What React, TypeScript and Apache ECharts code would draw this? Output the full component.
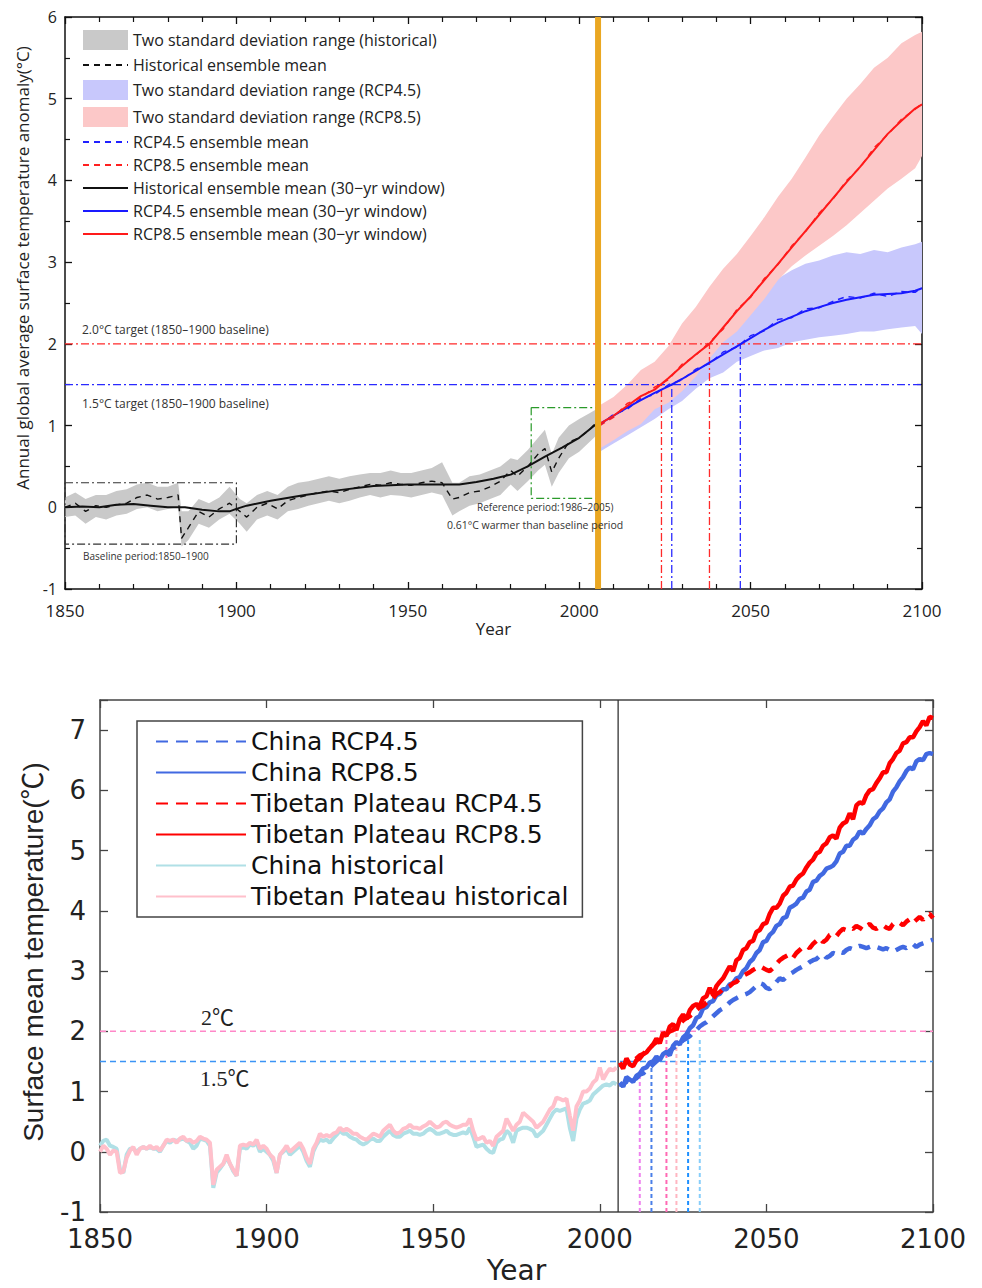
import React, { useEffect, useRef } from 'react';
import * as echarts from 'echarts';

// ---------------- TOP PANEL DATA ----------------
const topHistYears = [1850,1853,1856,1859,1862,1865,1868,1871,1874,1877,1880,1883,1884,1886,1889,1892,1895,1898,1901,1903,1906,1909,1912,1915,1918,1921,1924,1927,1930,1933,1936,1939,1942,1945,1948,1951,1954,1957,1960,1963,1965,1968,1971,1974,1977,1980,1982,1985,1988,1990,1992,1994,1997,2000,2003,2005];
const topHistMean = [0.0,0.05,-0.05,0.02,0.0,0.03,0.05,0.12,0.15,0.1,0.12,0.15,-0.38,-0.25,-0.05,-0.12,-0.02,0.05,-0.05,-0.12,0.0,0.05,-0.02,0.08,0.12,0.15,0.18,0.2,0.18,0.22,0.25,0.28,0.27,0.3,0.28,0.27,0.3,0.32,0.3,0.1,0.12,0.18,0.2,0.25,0.32,0.45,0.38,0.5,0.65,0.72,0.43,0.6,0.8,0.85,0.95,1.04];
const topHistLow = [-0.12,-0.1,-0.2,-0.12,-0.15,-0.1,-0.08,-0.02,0.0,-0.05,-0.02,0.0,-0.48,-0.4,-0.2,-0.25,-0.15,-0.08,-0.2,-0.3,-0.15,-0.1,-0.15,-0.05,-0.02,0.02,0.05,0.08,0.05,0.08,0.12,0.15,0.12,0.15,0.14,0.12,0.15,0.18,0.15,-0.1,-0.05,0.02,0.05,0.1,0.15,0.28,0.2,0.32,0.45,0.52,0.25,0.42,0.6,0.68,0.8,0.88];
const topHistHigh = [0.12,0.18,0.1,0.15,0.15,0.2,0.22,0.28,0.3,0.25,0.25,0.3,-0.05,-0.05,0.1,0.05,0.12,0.25,0.1,0.05,0.15,0.2,0.15,0.25,0.3,0.32,0.35,0.38,0.35,0.38,0.4,0.42,0.42,0.45,0.42,0.42,0.45,0.48,0.55,0.3,0.3,0.38,0.4,0.45,0.5,0.6,0.58,0.7,0.85,0.95,0.65,0.85,1.0,1.08,1.15,1.2];
const topHist30Years = [1850,1855,1860,1865,1870,1875,1880,1885,1890,1895,1898,1900,1903,1910,1920,1930,1940,1950,1960,1965,1970,1975,1980,1985,1990,1995,2000,2005];
const topHist30 = [0.0,0.01,0.0,0.03,0.04,0.02,0.0,0.0,-0.03,-0.05,-0.05,-0.02,0.02,0.08,0.15,0.21,0.26,0.28,0.28,0.28,0.31,0.35,0.4,0.5,0.62,0.73,0.85,1.02];

const topFutYears = [2006,2010,2014,2018,2022,2026,2030,2034,2038,2042,2046,2050,2054,2058,2062,2066,2070,2074,2078,2082,2086,2090,2094,2098,2100];
const rcp85High = [1.25,1.35,1.5,1.68,1.78,1.97,2.25,2.45,2.7,2.92,3.1,3.32,3.55,3.8,4.02,4.28,4.55,4.78,5.0,5.18,5.38,5.5,5.68,5.78,5.82];
const rcp85Low = [0.72,0.82,0.93,1.02,1.2,1.28,1.42,1.6,1.82,2.02,2.15,2.35,2.55,2.78,2.95,3.08,3.2,3.32,3.45,3.6,3.75,3.9,4.02,4.15,4.3];
const rcp45High = [1.2,1.3,1.42,1.55,1.68,1.82,1.95,2.1,2.25,2.38,2.5,2.62,2.72,2.8,2.9,2.98,3.02,3.08,3.12,3.1,3.15,3.12,3.18,3.22,3.25];
const rcp45Low = [0.68,0.78,0.88,0.98,1.08,1.2,1.3,1.45,1.58,1.65,1.78,1.85,1.92,1.95,2.02,2.05,2.08,2.1,2.12,2.15,2.15,2.18,2.2,2.22,2.12];
const rcp85Mean30 = [1.02,1.12,1.24,1.36,1.44,1.58,1.73,1.87,2.0,2.2,2.4,2.58,2.78,2.98,3.18,3.38,3.58,3.78,3.98,4.17,4.37,4.57,4.73,4.88,4.93];
const rcp45Mean30 = [1.02,1.12,1.22,1.31,1.4,1.48,1.57,1.67,1.77,1.87,1.97,2.07,2.17,2.26,2.33,2.4,2.45,2.5,2.54,2.57,2.6,2.61,2.62,2.65,2.68];
const rcp85Mean = [1.0,1.1,1.27,1.34,1.47,1.56,1.75,1.86,2.02,2.18,2.42,2.57,2.8,2.97,3.2,3.37,3.6,3.77,4.0,4.16,4.4,4.56,4.75,4.87,4.94];
const rcp45Mean = [1.0,1.14,1.2,1.33,1.38,1.5,1.56,1.69,1.76,1.9,1.96,2.1,2.16,2.3,2.32,2.43,2.44,2.52,2.58,2.56,2.62,2.58,2.64,2.63,2.69];

const topTargets = [2.0, 1.5];
const topCrossYears = [2024, 2027, 2038, 2047];
const topCrossTops = [1.5, 1.5, 2.0, 2.0];
const baselineBox = { x0: 1850, x1: 1900, y0: -0.45, y1: 0.3 };
const referenceBox = { x0: 1986, x1: 2005, y0: 0.11, y1: 1.22 };
const splitYear = 2005.5;

// ---------------- BOTTOM PANEL DATA ----------------
const histYears = Array.from({ length: 156 }, (_, i) => 1850 + i);
const futYears = Array.from({ length: 95 }, (_, i) => 2006 + i);

const tpHist = [
  0.00,0.10,0.05,-0.05,0.02,0.00,-0.35,-0.33,-0.10,0.02,
  0.08,-0.05,0.05,0.08,0.05,0.10,0.05,0.08,0.02,0.10,
  0.20,0.18,0.20,0.15,0.22,0.25,0.18,0.20,0.15,0.18,
  0.25,0.22,0.20,0.15,-0.55,-0.30,-0.25,-0.20,-0.05,-0.20,
  -0.30,-0.40,0.10,0.12,0.10,0.15,0.12,0.20,0.05,0.10,
  0.05,-0.05,-0.10,-0.35,-0.05,0.02,0.10,0.00,0.05,0.10,
  0.15,0.05,-0.10,-0.20,0.05,0.15,0.30,0.25,0.28,0.25,
  0.30,0.32,0.40,0.35,0.38,0.35,0.30,0.30,0.25,0.22,
  0.20,0.25,0.30,0.28,0.25,0.35,0.40,0.45,0.35,0.30,
  0.32,0.38,0.40,0.45,0.40,0.40,0.38,0.42,0.45,0.50,
  0.45,0.40,0.42,0.48,0.50,0.45,0.42,0.40,0.42,0.45,
  0.45,0.55,0.35,0.20,0.22,0.25,0.15,0.18,0.10,0.25,
  0.30,0.35,0.55,0.45,0.35,0.45,0.50,0.65,0.60,0.55,
  0.50,0.40,0.45,0.50,0.60,0.70,0.75,0.90,0.88,0.85,
  0.88,0.60,0.35,0.75,0.85,1.00,1.00,1.05,1.15,1.20,
  1.40,1.20,1.30,1.38,1.35,1.40,
];
const chinaHist = [
  0.10,0.18,0.20,0.10,0.08,0.05,-0.30,-0.35,-0.05,0.05,
  0.05,0.00,0.05,0.08,0.05,0.08,0.05,0.05,0.00,0.10,
  0.18,0.15,0.20,0.18,0.20,0.22,0.18,0.15,0.05,0.10,
  0.22,0.20,0.18,0.10,-0.60,-0.35,-0.28,-0.20,-0.10,-0.20,
  -0.32,-0.40,0.05,0.08,0.05,0.12,0.10,0.15,0.00,0.05,
  0.00,-0.05,-0.15,-0.35,-0.05,0.00,0.05,-0.05,0.00,0.05,
  0.10,0.00,-0.15,-0.25,0.00,0.12,0.20,0.18,0.20,0.15,
  0.22,0.28,0.35,0.30,0.30,0.25,0.22,0.20,0.15,0.12,
  0.15,0.20,0.22,0.18,0.18,0.25,0.30,0.35,0.28,0.25,
  0.25,0.30,0.32,0.35,0.30,0.30,0.28,0.30,0.35,0.38,
  0.35,0.30,0.30,0.32,0.35,0.30,0.28,0.28,0.30,0.32,
  0.30,0.40,0.25,0.08,0.10,0.12,0.05,0.00,-0.02,0.15,
  0.20,0.22,0.35,0.30,0.15,0.35,0.38,0.40,0.40,0.38,
  0.35,0.25,0.30,0.35,0.45,0.55,0.65,0.70,0.68,0.70,
  0.72,0.40,0.18,0.55,0.70,0.80,0.82,0.85,0.95,1.00,
  1.05,1.10,1.12,1.10,1.15,1.12,
];
const tpRcp85 = [
  1.48,1.38,1.55,1.45,
  1.42,1.52,1.55,1.62,1.65,1.72,1.78,1.88,1.80,1.98,
  1.92,2.08,2.12,2.02,2.20,2.28,2.20,2.35,2.42,2.45,
  2.42,2.55,2.58,2.72,2.60,2.75,2.82,2.88,2.98,3.08,
  3.00,3.18,3.22,3.35,3.38,3.48,3.50,3.65,3.68,3.78,
  3.80,3.95,4.05,4.05,4.12,4.25,4.30,4.40,4.42,4.52,
  4.58,4.62,4.72,4.80,4.85,4.95,4.98,5.08,5.12,5.22,
  5.25,5.20,5.38,5.45,5.48,5.62,5.52,5.75,5.80,5.78,
  5.92,6.00,6.02,6.12,6.20,6.30,6.30,6.45,6.52,6.62,
  6.66,6.78,6.80,6.88,6.88,6.98,7.05,7.15,7.08,7.22,
  7.20,
];
const chinaRcp85 = [
  1.15,1.08,1.24,1.20,
  1.16,1.26,1.30,1.38,1.40,1.48,1.50,1.58,1.52,1.62,
  1.66,1.60,1.76,1.82,1.78,1.90,1.95,2.05,2.10,2.22,
  2.25,2.38,2.40,2.48,2.50,2.60,2.62,2.70,2.70,2.78,
  2.80,2.88,2.90,3.00,3.05,3.15,3.20,3.30,3.35,3.48,
  3.50,3.60,3.65,3.75,3.78,3.88,3.90,4.05,4.08,4.12,
  4.20,4.22,4.32,4.35,4.48,4.50,4.58,4.62,4.70,4.72,
  4.75,4.82,4.95,4.98,5.08,5.08,5.18,5.22,5.32,5.28,
  5.36,5.42,5.52,5.56,5.65,5.70,5.80,5.85,5.98,6.05,
  6.15,6.22,6.32,6.38,6.35,6.48,6.52,6.50,6.60,6.62,
  6.60,
];
const tpRcp45 = [
  1.45,1.42,1.50,1.48,
  1.52,1.55,1.60,1.62,1.68,1.72,1.78,1.82,1.85,1.88,
  1.95,2.00,2.02,2.08,2.12,2.18,2.22,2.25,2.30,2.35,
  2.40,2.42,2.48,2.52,2.55,2.62,2.65,2.70,2.72,2.75,
  2.80,2.82,2.88,2.92,2.95,2.98,3.02,3.05,3.08,3.05,
  3.02,3.00,3.05,3.12,3.18,3.22,3.25,3.28,3.22,3.30,
  3.35,3.40,3.42,3.38,3.45,3.50,3.55,3.48,3.52,3.60,
  3.62,3.58,3.65,3.70,3.68,3.72,3.70,3.75,3.72,3.68,
  3.75,3.78,3.72,3.70,3.74,3.76,3.72,3.70,3.78,3.82,
  3.80,3.76,3.82,3.86,3.80,3.85,3.90,3.85,3.92,3.95,
  3.88,
];
const chinaRcp45 = [
  1.12,1.10,1.18,1.15,
  1.20,1.22,1.28,1.30,1.35,1.40,1.45,1.50,1.55,1.58,
  1.62,1.68,1.72,1.75,1.80,1.85,1.88,1.92,1.98,2.02,
  2.08,2.12,2.15,2.20,2.25,2.30,2.35,2.38,2.42,2.48,
  2.52,2.55,2.58,2.60,2.62,2.65,2.70,2.75,2.80,2.78,
  2.72,2.70,2.75,2.82,2.88,2.85,2.90,2.95,2.98,3.02,
  3.05,3.08,3.10,3.15,3.18,3.20,3.25,3.28,3.22,3.25,
  3.30,3.28,3.32,3.30,3.35,3.38,3.36,3.40,3.42,3.40,
  3.38,3.40,3.42,3.40,3.38,3.36,3.38,3.35,3.32,3.35,
  3.38,3.40,3.38,3.42,3.45,3.40,3.44,3.46,3.48,3.50,
  3.52,
];
const bottomTargets = [2.0, 1.5];
const markYears = [2012, 2015.5, 2020, 2023, 2026.5, 2030];
const markTops = [1.3, 1.5, 2.0, 2.0, 1.85, 1.9];
const markColors = ['#ee82ee', '#4a7fe8', '#ff69b4', '#ffb6c1', '#1e90ff', '#87cefa'];

// ---------------- helpers ----------------
const TOP_FONT = "'Open Sans', 'Noto Sans', sans-serif";
const BOT_FONT = "'DejaVu Sans', sans-serif";
const DASHDOT = [8, 3, 2, 3];

function pairs(xs: number[], ys: number[]) {
  return xs.map((x, i) => [x, ys[i]]);
}

function line(name: string, data: number[][], color: string, width: number, type: any, axis: number, z = 3) {
  return {
    type: 'line', name, xAxisIndex: axis, yAxisIndex: axis, data,
    symbol: 'none', showSymbol: false, silent: true, z,
    lineStyle: { color, width, type }, itemStyle: { color },
  };
}

function band(name: string, xs: number[], lo: number[], hi: number[], color: string) {
  return {
    type: 'custom', name, xAxisIndex: 0, yAxisIndex: 0, z: 1, silent: true,
    itemStyle: { color },
    encode: { x: 0, y: 1 },
    data: [[xs[0], lo[0]]],
    renderItem: (_params: any, api: any) => {
      const pts: number[][] = [];
      for (let i = 0; i < xs.length; i++) pts.push(api.coord([xs[i], hi[i]]));
      for (let i = xs.length - 1; i >= 0; i--) pts.push(api.coord([xs[i], lo[i]]));
      return { type: 'polygon', shape: { points: pts }, style: { fill: color } };
    },
  };
}

function boxPath(b: { x0: number; x1: number; y0: number; y1: number }) {
  return [[b.x0, b.y1], [b.x1, b.y1], [b.x1, b.y0], [b.x0, b.y0], [b.x0, b.y1]];
}

function xAx(grid: number, pos: string, labels: boolean) {
  const isTop = grid === 0;
  return {
    type: 'value', gridIndex: grid, position: pos, min: 1850, max: 2100, interval: 50,
    splitLine: { show: false },
    axisLine: { onZero: false, lineStyle: { color: isTop ? '#111' : '#444', width: 1.5 } },
    axisTick: { inside: true, length: isTop ? 7 : 8, lineStyle: { color: isTop ? '#111' : '#444', width: 1.3 } },
    minorTick: { show: isTop, splitNumber: 5, length: 5, lineStyle: { color: '#111', width: 1.2 } },
    axisLabel: {
      show: labels, margin: isTop ? 13 : 14, fontSize: isTop ? 17 : 26,
      fontFamily: isTop ? TOP_FONT : BOT_FONT, color: '#222',
      formatter: (v: number) => String(v),
    },
    name: labels ? 'Year' : '',
    nameLocation: 'middle', nameGap: isTop ? 28 : 44,
    nameTextStyle: { fontSize: isTop ? 17 : 28, fontFamily: isTop ? TOP_FONT : BOT_FONT, color: '#222' },
  };
}

function yAx(grid: number, pos: string, labels: boolean) {
  const isTop = grid === 0;
  return {
    type: 'value', gridIndex: grid, position: pos, min: -1, max: isTop ? 6 : 7.5, interval: 1,
    splitLine: { show: false },
    axisLine: { onZero: false, lineStyle: { color: isTop ? '#111' : '#444', width: 1.5 } },
    axisTick: { inside: true, length: isTop ? 7 : 8, lineStyle: { color: isTop ? '#111' : '#444', width: 1.3 } },
    minorTick: { show: isTop, splitNumber: 2, length: 5, lineStyle: { color: '#111', width: 1.2 } },
    axisLabel: {
      show: labels, margin: isTop ? 8 : 14, fontSize: isTop ? 16 : 26,
      fontFamily: isTop ? TOP_FONT : BOT_FONT, color: '#222',
      formatter: (v: number) => (Number.isInteger(v) ? String(v) : ''),
    },
  };
}

const lineItem = (name: string) => ({ name, itemStyle: { opacity: 0, borderWidth: 0 } });

function buildOption() {
  const series: any[] = [];
  // --- top panel ---
  series.push(band('Two standard deviation range (historical)', topHistYears, topHistLow, topHistHigh, '#c9c9c9'));
  series.push(band('Two standard deviation range (RCP4.5)', topFutYears, rcp45Low, rcp45High, '#c8c8fc'));
  series.push(band('Two standard deviation range (RCP8.5)', topFutYears, rcp85Low, rcp85High, '#fcc8c8'));
  topTargets.forEach((t, i) => {
    series.push(line('target-' + i, [[1850, t], [2100, t]], i === 0 ? '#ff2a2a' : '#2a2aff', 1.3, DASHDOT, 0, 2));
  });
  topCrossYears.forEach((yr, i) => {
    series.push(line('cross-' + i, [[yr, -1], [yr, topCrossTops[i]]], i % 2 === 0 ? '#ff2a2a' : '#2a2aff', 1.3, DASHDOT, 0, 2));
  });
  series.push(line('baseline-box', boxPath(baselineBox), '#333', 1.2, DASHDOT, 0, 2));
  series.push(line('reference-box', boxPath(referenceBox), '#2a9a2a', 1.2, DASHDOT, 0, 2));
  series.push(line('Historical ensemble mean', pairs(topHistYears, topHistMean), '#111', 1.4, [6, 5], 0));
  series.push(line('RCP4.5 ensemble mean', pairs(topFutYears, rcp45Mean), '#2020ff', 1.4, [6, 5], 0));
  series.push(line('RCP8.5 ensemble mean', pairs(topFutYears, rcp85Mean), '#ff2020', 1.4, [6, 5], 0));
  series.push(line('Historical ensemble mean (30−yr window)', pairs(topHist30Years, topHist30), '#111', 2, 'solid', 0));
  series.push(line('RCP4.5 ensemble mean (30−yr window)', pairs(topFutYears, rcp45Mean30), '#1a1aff', 2, 'solid', 0));
  series.push(line('RCP8.5 ensemble mean (30−yr window)', pairs(topFutYears, rcp85Mean30), '#ff1a1a', 2, 'solid', 0));
  series.push(line('split-orange', [[splitYear, -1], [splitYear, 6]], '#eaa722', 6, 'solid', 0, 5));

  // --- bottom panel ---
  bottomTargets.forEach((t, i) => {
    series.push(line('btarget-' + i, [[1850, t], [2100, t]], i === 0 ? '#ff88c8' : '#3b94f5', 1.5, [6, 4], 2, 2));
  });
  markYears.forEach((yr, i) => {
    series.push(line('bmark-' + i, [[yr, -1], [yr, markTops[i]]], markColors[i], 2, [4, 3], 2, 2));
  });
  series.push(line('bsplit', [[splitYear, -1], [splitYear, 7.5]], '#333', 1.3, 'solid', 2, 2));
  series.push(line('China RCP4.5', pairs(futYears, chinaRcp45), '#4169e1', 4.5, [12, 8], 2));
  series.push(line('China RCP8.5', pairs(futYears, chinaRcp85), '#4169e1', 4.5, 'solid', 2));
  series.push(line('Tibetan Plateau RCP4.5', pairs(futYears, tpRcp45), '#ff0000', 4.5, [12, 8], 2));
  series.push(line('Tibetan Plateau RCP8.5', pairs(futYears, tpRcp85), '#ff0000', 4.5, 'solid', 2));
  series.push(line('China historical', pairs(histYears, chinaHist), '#b0e0e6', 4, 'solid', 2));
  series.push(line('Tibetan Plateau historical', pairs(histYears, tpHist), '#ffc0cb', 4, 'solid', 2));

  const annot = (text: string, x: number, y: number, size: number, font = TOP_FONT, fill = '#333') => ({
    type: 'text', x, y, z: 10,
    style: { text, fontSize: size, fontFamily: font, fill, align: 'left', verticalAlign: 'middle' },
  });

  return {
    animation: false,
    backgroundColor: '#ffffff',
    grid: [
      { left: 65, top: 17, width: 857, height: 572 },
      { left: 100, top: 700, width: 833, height: 512 },
    ],
    xAxis: [xAx(0, 'bottom', true), xAx(0, 'top', false), xAx(1, 'bottom', true), xAx(1, 'top', false)],
    yAxis: [yAx(0, 'left', true), yAx(0, 'right', false), yAx(1, 'left', true), yAx(1, 'right', false)],
    legend: [
      {
        orient: 'vertical', left: 82, top: 30, itemWidth: 45, itemHeight: 20, itemGap: 7, padding: 0,
        selectedMode: false,
        textStyle: { fontSize: 16, fontFamily: TOP_FONT, color: '#222' },
        data: [
          { name: 'Two standard deviation range (historical)', icon: 'rect' },
          lineItem('Historical ensemble mean'),
          { name: 'Two standard deviation range (RCP4.5)', icon: 'rect' },
          { name: 'Two standard deviation range (RCP8.5)', icon: 'rect' },
          lineItem('RCP4.5 ensemble mean'),
          lineItem('RCP8.5 ensemble mean'),
          lineItem('Historical ensemble mean (30−yr window)'),
          lineItem('RCP4.5 ensemble mean (30−yr window)'),
          lineItem('RCP8.5 ensemble mean (30−yr window)'),
        ],
      },
      {
        orient: 'vertical', left: 137, top: 721, itemWidth: 90, itemHeight: 20, itemGap: 6,
        padding: [8, 14, 8, 18], borderColor: '#444', borderWidth: 1.5, backgroundColor: '#fff',
        selectedMode: false,
        textStyle: { fontSize: 25, fontFamily: BOT_FONT, color: '#111' },
        data: ['China RCP4.5', 'China RCP8.5', 'Tibetan Plateau RCP4.5', 'Tibetan Plateau RCP8.5', 'China historical', 'Tibetan Plateau historical'].map(lineItem),
      },
    ],
    graphic: [
      {
        type: 'text', x: 22, y: 268, rotation: Math.PI / 2, z: 10,
        style: { text: 'Annual global average surface temperature anomaly(°C)', fontSize: 17, fontFamily: TOP_FONT, fill: '#222', align: 'center', verticalAlign: 'middle' },
      },
      {
        type: 'text', x: 33, y: 952, rotation: Math.PI / 2, z: 10,
        style: { text: 'Surface mean temperature(℃)', fontSize: 28, fontFamily: "'Liberation Sans', 'Noto Sans CJK SC', sans-serif", fill: '#222', align: 'center', verticalAlign: 'middle' },
      },
      annot('2.0°C target (1850–1900 baseline)', 82, 329, 12),
      annot('1.5°C target (1850–1900 baseline)', 82, 403, 12),
      annot('Baseline period:1850–1900', 83, 556, 10),
      annot('Reference period:1986–2005)', 477, 507, 10),
      annot('0.61°C warmer than baseline period', 447, 525, 10.5),
      annot('2℃', 201, 1017, 22, "'Liberation Serif', 'Noto Sans CJK SC', serif", '#222'),
      annot('1.5℃', 200, 1078, 22, "'Liberation Serif', 'Noto Sans CJK SC', serif", '#222'),
    ],
    series,
  };
}

export default function App() {
  const ref = useRef<HTMLDivElement>(null);
  useEffect(() => {
    document.body.style.margin = '0';
    const chart = echarts.init(ref.current as HTMLDivElement, null, { renderer: 'svg' });
    chart.setOption(buildOption() as any);
    return () => chart.dispose();
  }, []);
  return <div ref={ref} style={{ width: 982, height: 1288, background: '#fff' }} />;
}
